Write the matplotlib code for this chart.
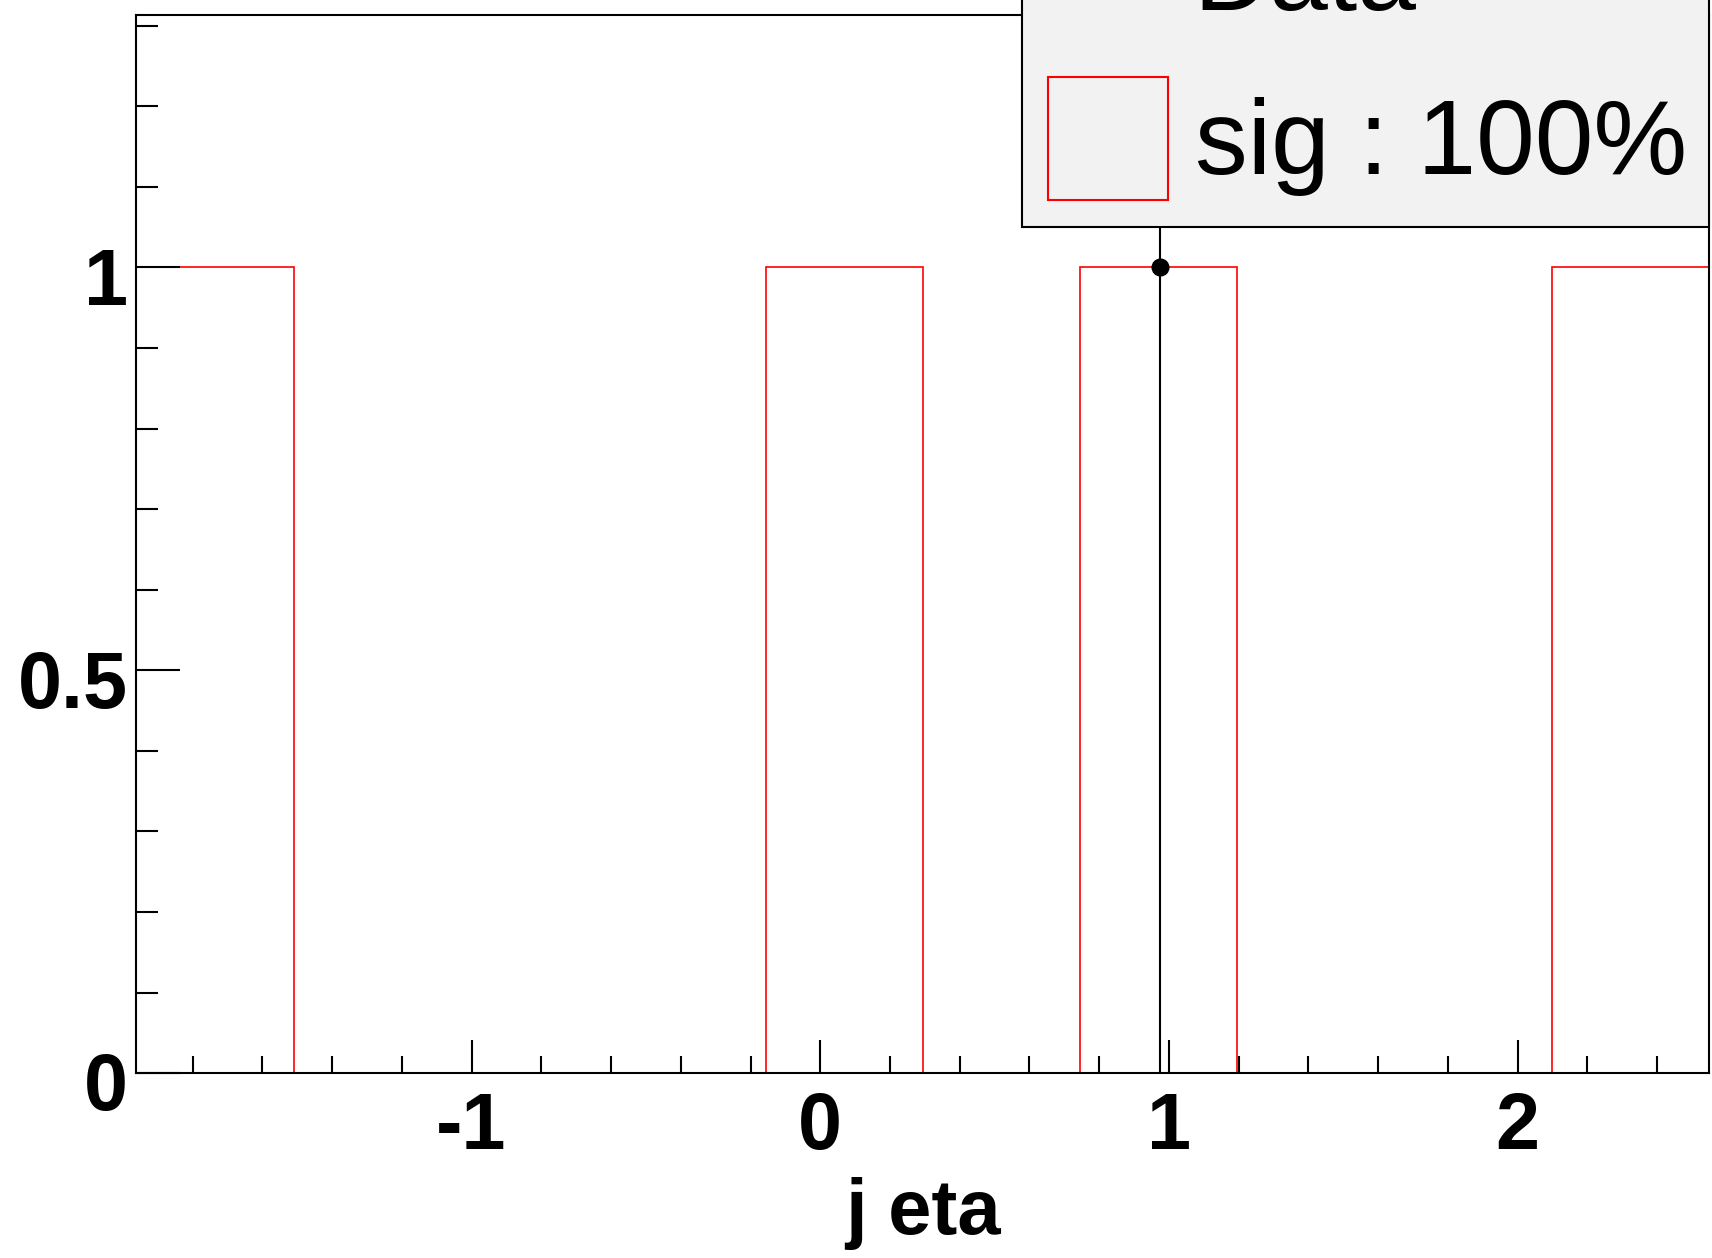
import matplotlib
import matplotlib.pyplot as plt
from matplotlib.patches import Rectangle
from matplotlib.transforms import ScaledTranslation

matplotlib.use("agg")

# histogram of signal ("sig : 100%")
bin_edges = [-1.961, -1.510, -1.059, -0.608, -0.157, 0.294, 0.745, 1.196, 1.647, 2.098, 2.549]
sig_counts = [1, 0, 0, 0, 1, 0, 1, 0, 0, 1]

# data points
data_x = [0.974]
data_y = [1.0]
data_err = [1.0]

x_major = [-1, 0, 1, 2]
x_minor = [-1.8, -1.6, -1.4, -1.2, -0.8, -0.6, -0.4, -0.2, 0.2, 0.4, 0.6, 0.8,
           1.2, 1.4, 1.6, 1.8, 2.2, 2.4]
y_major = [0, 0.5, 1]
y_minor = [0.1, 0.2, 0.3, 0.4, 0.6, 0.7, 0.8, 0.9, 1.1, 1.2, 1.3]

plt.rcParams["font.family"] = ["Liberation Sans", "DejaVu Sans"]

fig = plt.figure(figsize=(17.12, 12.58), dpi=100)
ax = fig.add_axes([0.0797, 0.147, 0.9186, 0.8408])

ax.stairs(sig_counts, bin_edges, baseline=0, color="#ff0000", lw=1.2, zorder=1.5)
ax.errorbar(data_x, data_y, yerr=data_err, fmt="o", color="black", ms=12,
            elinewidth=1.5, capsize=0, zorder=3)

ax.set_xlim(bin_edges[0], bin_edges[-1])
ax.set_ylim(0, 1.313)

ax.set_xticks(x_major)
ax.set_xticks(x_minor, minor=True)
ax.set_yticks(y_major)
ax.set_yticks(y_minor, minor=True)
ax.set_xticklabels(["-1", "0", "1", "2"])
ax.set_yticklabels(["0", "0.5", "1"])

ax.tick_params(axis="x", which="major", direction="in", length=24, width=1.5,
               labelsize=57, pad=13)
ax.tick_params(axis="x", which="minor", direction="in", length=12, width=1.5)
ax.tick_params(axis="y", which="major", direction="in", length=32, width=1.5,
               labelsize=57, pad=6)
ax.tick_params(axis="y", which="minor", direction="in", length=16, width=1.5)
for lab in ax.get_xticklabels() + ax.get_yticklabels():
    lab.set_fontweight("bold")
# ROOT puts the y labels a little below the tick
shift = ScaledTranslation(0, -6 / 72, fig.dpi_scale_trans)
for t in ax.yaxis.get_major_ticks():
    t.label1.set_transform(t.label1.get_transform() + shift)

for sp in ax.spines.values():
    sp.set_linewidth(1.5)
    sp.set_zorder(4)

ax.set_xlabel("j eta", fontsize=56, fontweight="bold", labelpad=8)

# legend box, partly outside the canvas like the original
fig.patches.append(Rectangle((0.597, 0.8196), 0.4013, 0.3, transform=fig.transFigure,
                             facecolor="#f2f2f2", edgecolor="black", lw=1.5, zorder=5))
fig.patches.append(Rectangle((0.612, 0.841), 0.070, 0.098, transform=fig.transFigure,
                             facecolor="none", edgecolor="#ff0000", lw=1.5, zorder=6))
fig.text(0.698, 0.892, "sig : 100%", fontsize=76, va="center_baseline", ha="left", zorder=6)
fig.text(0.697, 0.992, "Data", fontsize=76, va="baseline", ha="left", zorder=6)

fig.savefig("out.png", dpi=100)
